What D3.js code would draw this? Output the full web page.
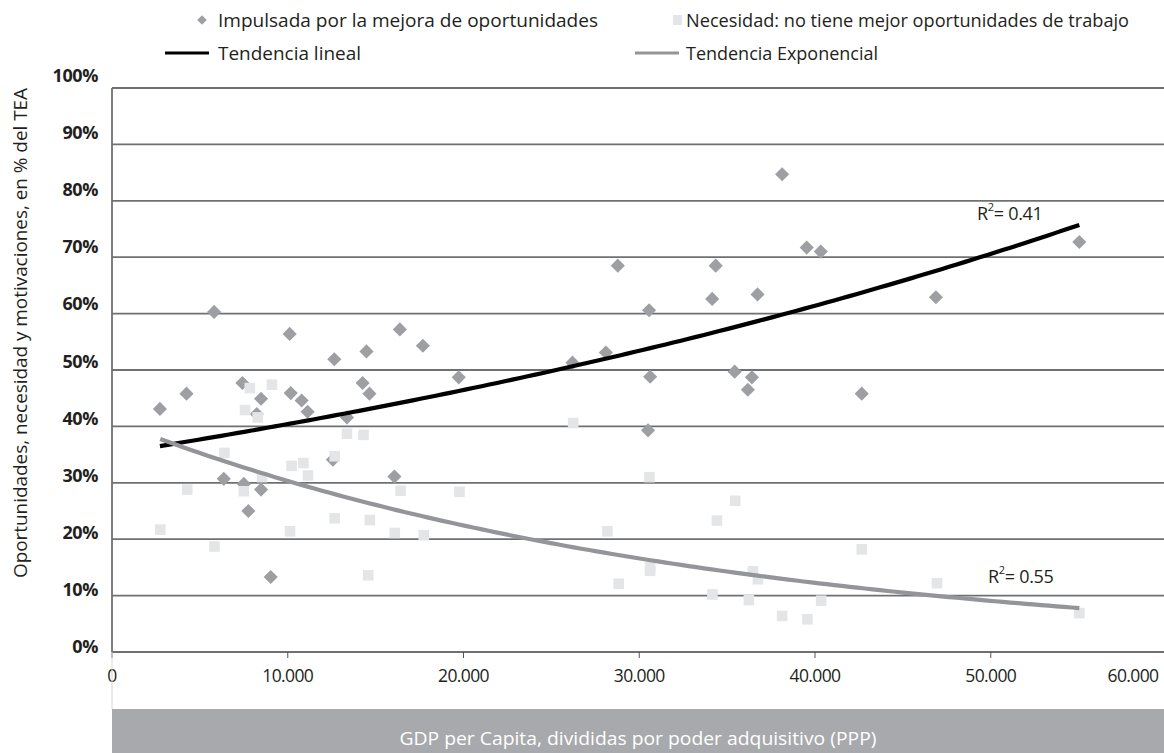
<!DOCTYPE html>
<html>
<head>
<meta charset="utf-8">
<script src="https://cdn.jsdelivr.net/npm/d3@7"></script>
<style>
  body { margin: 0; background: #fff; }
  svg { display: block; font-family: "Open Sans", "Noto Sans", sans-serif; }
</style>
</head>
<body>
<svg id="chart" width="1164" height="753"></svg>
<script>
// GDP per capita (PPP) and share of early-stage entrepreneurs (% of TEA)
const gdpImpulsada = [2727, 4240, 5811, 6360, 7420, 7500, 7760, 8240, 8480, 8480, 9030,
  10110, 10170, 10790, 11130, 12570, 12650, 13370, 14260, 14480, 14650, 16070, 16380,
  17690, 19730, 26200, 28100, 28780, 30500, 30560, 30620, 34150, 34350, 35430, 36180,
  36410, 36730, 38130, 39530, 40330, 42660, 46880, 55040];
const pctImpulsada = [43.1, 45.8, 60.3, 30.7, 47.7, 29.8, 25.0, 42.2, 44.9, 28.8, 13.3,
  56.4, 45.9, 44.6, 42.6, 34.1, 51.9, 41.6, 47.7, 53.3, 45.8, 31.1, 57.2,
  54.3, 48.7, 51.3, 53.1, 68.5, 39.3, 60.6, 48.8, 62.6, 68.5, 49.7, 46.5,
  48.7, 63.4, 84.7, 71.7, 71.0, 45.8, 62.9, 72.7];

const gdpNecesidad = [2745, 4280, 5830, 6400, 7500, 7570, 7840, 8290, 8540, 9100, 10130,
  10220, 10890, 11150, 12670, 12670, 13370, 14310, 14580, 14670, 16090, 16420, 17740,
  19770, 26240, 28190, 28830, 30580, 30620, 30620, 34160, 34420, 35460, 36240, 36470,
  36750, 38130, 39570, 40350, 42660, 46940, 55040];
const pctNecesidad = [21.7, 28.8, 18.7, 35.3, 28.5, 42.9, 46.8, 41.6, 31.0, 47.4, 21.4,
  33.0, 33.5, 31.3, 34.7, 23.7, 38.7, 38.5, 13.6, 23.4, 21.1, 28.6, 20.7,
  28.4, 40.6, 21.4, 12.1, 31.0, 15.0, 14.4, 10.2, 23.3, 26.8, 9.2, 14.3,
  12.9, 6.4, 5.8, 9.1, 18.2, 12.2, 6.9];

const xTicks = [0, 10000, 20000, 30000, 40000, 50000, 60000];
const xTickLabels = ["0", "10.000", "20.000", "30.000", "40.000", "50.000", "60.000"];
const yTicks = [0, 10, 20, 30, 40, 50, 60, 70, 80, 90, 100];
const yTickLabels = ["0%", "10%", "20%", "30%", "40%", "50%", "60%", "70%", "80%", "90%", "100%"];

const seriesNames = ["Impulsada por la mejora de oportunidades",
  "Necesidad: no tiene mejor oportunidades de trabajo"];
const trendNames = ["Tendencia lineal", "Tendencia Exponencial"];
const r2Labels = ["0.41", "0.55"];

const colDiamond = "#9d9fa2";
const colSquare = "#e4e5e6";
const colGrid = "#6f7073";
const colTrendA = "#000000";
const colTrendB = "#939598";
const colText = "#231f20";

const svg = d3.select("#chart");

const x = d3.scaleLinear().domain([0, 60000]).range([112, 1166.5]);
const y = d3.scaleLinear().domain([0, 100]).range([652, 88]);
// tick labels sit slightly above their gridlines
const yLab = d3.scaleLinear().domain([0, 100]).range([646, 75]);

// horizontal gridlines (0% is the axis, 100% the top frame)
svg.append("g").selectAll("line").data(yTicks).join("line")
  .attr("x1", 112).attr("x2", 1164)
  .attr("y1", d => y(d)).attr("y2", d => y(d))
  .attr("stroke", colGrid).attr("stroke-width", 1.8);

// left frame
svg.append("line")
  .attr("x1", x(0)).attr("x2", x(0)).attr("y1", y(100)).attr("y2", y(0))
  .attr("stroke", colGrid).attr("stroke-width", 1.8);

// x ticks
svg.append("g").selectAll("line").data(xTicks.filter(d => x(d) < 1164)).join("line")
  .attr("x1", d => x(d)).attr("x2", d => x(d))
  .attr("y1", y(0)).attr("y2", y(0) + 6)
  .attr("stroke", "#555").attr("stroke-width", 1);

// x tick labels
svg.append("g").selectAll("text").data(xTicks).join("text")
  .attr("x", d => Math.min(x(d), 1133))
  .attr("y", 675)
  .attr("text-anchor", "middle")
  .attr("dominant-baseline", "central")
  .attr("font-size", 17.5)
  .attr("letter-spacing", -0.6)
  .attr("fill", colText)
  .text((d, i) => xTickLabels[i]);

// y tick labels
svg.append("g").selectAll("text").data(yTicks).join("text")
  .attr("x", 98)
  .attr("y", d => yLab(d))
  .attr("text-anchor", "end")
  .attr("dominant-baseline", "central")
  .attr("font-size", 18)
  .attr("font-weight", 700)
  .attr("letter-spacing", -0.4)
  .attr("fill", colText)
  .text((d, i) => yTickLabels[i]);

// y axis title
svg.append("text")
  .attr("transform", "translate(20,333) rotate(-90)")
  .attr("text-anchor", "middle")
  .attr("dominant-baseline", "central")
  .attr("font-size", 18)
  .attr("textLength", 490)
  .attr("lengthAdjust", "spacingAndGlyphs")
  .attr("fill", colText)
  .text("Oportunidades, necesidad y motivaciones, en % del TEA");

// x axis title band
svg.append("line")
  .attr("x1", 112).attr("x2", 112).attr("y1", y(0)).attr("y2", 709)
  .attr("stroke", "#d4d4d4").attr("stroke-width", 1);
svg.append("rect")
  .attr("x", 112).attr("y", 709).attr("width", 1052).attr("height", 44)
  .attr("fill", "#a7a9ac");
svg.append("text")
  .attr("x", 638).attr("y", 738)
  .attr("text-anchor", "middle")
  .attr("dominant-baseline", "central")
  .attr("font-size", 18)
  .attr("textLength", 477)
  .attr("lengthAdjust", "spacingAndGlyphs")
  .attr("fill", "#fff")
  .text("GDP per Capita, divididas por poder adquisitivo (PPP)");

// points
const diamondPath = d3.symbol(d3.symbolSquare, 100)();
const squarePath = d3.symbol(d3.symbolSquare, 112)();

const impulsada = gdpImpulsada.map((g, i) => ({ g, p: pctImpulsada[i] }));
const necesidad = gdpNecesidad.map((g, i) => ({ g, p: pctNecesidad[i] }));

svg.append("g").selectAll("path").data(impulsada).join("path")
  .attr("d", diamondPath)
  .attr("transform", d => `translate(${x(d.g)},${y(d.p)}) rotate(45)`)
  .attr("fill", colDiamond);

svg.append("g").selectAll("path").data(necesidad).join("path")
  .attr("d", squarePath)
  .attr("transform", d => `translate(${x(d.g)},${y(d.p)})`)
  .attr("fill", colSquare);

// exponential least-squares trend: ln(p) = ln(a) + b*g
function expTrend(data) {
  const n = data.length;
  let sx = 0, sy = 0, sxx = 0, sxy = 0;
  data.forEach(d => {
    const ly = Math.log(d.p);
    sx += d.g; sy += ly; sxx += d.g * d.g; sxy += d.g * ly;
  });
  const b = (n * sxy - sx * sy) / (n * sxx - sx * sx);
  const a = Math.exp((sy - b * sx) / n);
  const [g0, g1] = d3.extent(data, d => d.g);
  return d3.range(121).map(i => {
    const g = g0 + (g1 - g0) * i / 120;
    return { g, p: a * Math.exp(b * g) };
  });
}

const line = d3.line().x(d => x(d.g)).y(d => y(d.p));

svg.append("path").datum(expTrend(impulsada))
  .attr("d", line).attr("fill", "none")
  .attr("stroke", colTrendA).attr("stroke-width", 4.2);

svg.append("path").datum(expTrend(necesidad))
  .attr("d", line).attr("fill", "none")
  .attr("stroke", colTrendB).attr("stroke-width", 4.2);

// R² annotations
function r2(xPos, yPos, val) {
  const t = svg.append("text")
    .attr("x", xPos).attr("y", yPos)
    .attr("dominant-baseline", "central")
    .attr("font-size", 18).attr("letter-spacing", -0.3).attr("fill", colText);
  t.append("tspan").text("R");
  t.append("tspan").attr("font-size", 11).attr("dy", -7).text("2");
  t.append("tspan").attr("dy", 7).text("= " + val);
}
r2(977, 213, r2Labels[0]);
r2(988, 576, r2Labels[1]);

// legend
const lg = svg.append("g");
lg.append("path").attr("d", d3.symbol(d3.symbolSquare, 46)())
  .attr("transform", "translate(202,20) rotate(45)").attr("fill", colDiamond);
lg.append("rect").attr("x", 673).attr("y", 15).attr("width", 9).attr("height", 10)
  .attr("fill", colSquare);
lg.append("line").attr("x1", 165).attr("x2", 209).attr("y1", 53).attr("y2", 53)
  .attr("stroke", colTrendA).attr("stroke-width", 3);
lg.append("line").attr("x1", 635).attr("x2", 679).attr("y1", 53).attr("y2", 53)
  .attr("stroke", colTrendB).attr("stroke-width", 3);

const legendTexts = [
  { t: seriesNames[0], x: 218, y: 20, w: 380 },
  { t: seriesNames[1], x: 686, y: 20, w: 443 },
  { t: trendNames[0], x: 218, y: 53, w: 143 },
  { t: trendNames[1], x: 686, y: 53, w: 192 }
];
lg.selectAll("text").data(legendTexts).join("text")
  .attr("x", d => d.x).attr("y", d => d.y)
  .attr("dominant-baseline", "central")
  .attr("font-size", 18)
  .attr("textLength", d => d.w)
  .attr("lengthAdjust", "spacingAndGlyphs")
  .attr("fill", colText)
  .text(d => d.t);
</script>
</body>
</html>
